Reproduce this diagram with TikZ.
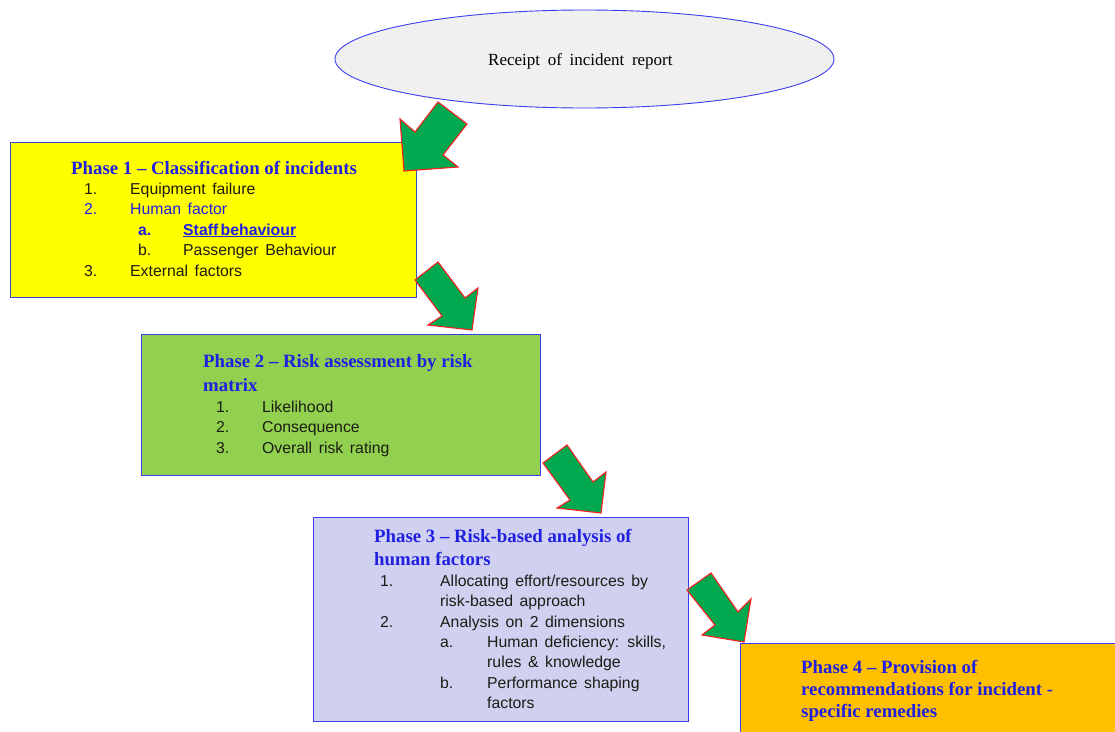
\documentclass[tikz,border=0pt]{standalone}
\usepackage{fontspec}
\setmainfont{Liberation Serif}
\setsansfont[WordSpace={1.5}]{Liberation Sans}
\usetikzlibrary{shapes.geometric}
\definecolor{ttlblue}{RGB}{32,32,225}
\definecolor{bodytxt}{RGB}{28,28,20}
\definecolor{boxblue}{RGB}{60,60,240}
\definecolor{box1blue}{RGB}{50,80,190}
\definecolor{ellfill}{RGB}{240,240,240}
\definecolor{ylw}{RGB}{255,255,0}
\definecolor{grn}{RGB}{146,208,80}
\definecolor{lav}{RGB}{208,208,240}
\definecolor{org}{RGB}{255,192,0}
\definecolor{arrgreen}{RGB}{0,168,80}
\definecolor{arrred}{RGB}{250,30,30}
\begin{document}
\begin{tikzpicture}[x=1pt,y=-1pt,
  phasebox/.style={draw=boxblue,line width=0.9pt,anchor=north west,inner sep=0pt},
  ttl/.style={anchor=base west,inner sep=0pt,text=ttlblue,font=\fontsize{18.8}{22}\selectfont\bfseries},
  bd/.style={anchor=base west,inner sep=0pt,text=bodytxt,font=\sffamily\fontsize{15.8}{19}\selectfont},
  bdb/.style={bd,text=ttlblue},
  blockarrow/.style={fill=arrgreen,draw=arrred,line width=1.1pt,line join=miter}]
\useasboundingbox (0,0) rectangle (1115,731);
\clip (0,0) rectangle (1115,731);

% start ellipse
\node[ellipse,draw=boxblue,line width=0.9pt,fill=ellfill,minimum width=499pt,minimum height=98pt,inner sep=0pt] (start) at (584.5,59) {};
\node[anchor=base west,inner sep=0pt,font=\fontsize{17}{20}\selectfont,
  execute at begin node={\spaceskip=0.45em plus 0.1em}] (starttxt) at (488,65) {Receipt of incident report};

% boxes
\node[phasebox,draw=box1blue,fill=ylw,minimum width=406pt,minimum height=155pt] (p1) at (9.5,142) {};
\node[phasebox,fill=grn,minimum width=399pt,minimum height=141pt] (p2) at (141,334) {};
\node[phasebox,fill=lav,minimum width=375pt,minimum height=204pt] (p3) at (313,517) {};
\node[phasebox,fill=org,minimum width=390pt,minimum height=100pt] (p4) at (740,643) {};

% arrows
\draw[blockarrow] (404,171) -- (400,119) -- (415,132) -- (438,102) -- (467,124) -- (443,155) -- (458,167) -- cycle;
\draw[blockarrow] (415,280) -- (438,262) -- (465,298) -- (478,288) -- (472,330) -- (428,325) -- (442,316) -- cycle;
\draw[blockarrow] (543,463) -- (567,445) -- (593,482) -- (606,472) -- (601,513) -- (557,508) -- (570,500) -- cycle;
\draw[blockarrow] (687,590) -- (711,573) -- (738,612) -- (751,599) -- (744,642) -- (702,635) -- (715,625) -- cycle;

% Phase 1 text
\node[ttl] (t1) at (71,174) {Phase 1 – Classification of incidents};
\node[bd] (n11) at (84,194) {1.};
\node[bd] (i11) at (130,194) {Equipment failure};
\node[bdb] (n12) at (84,214.5) {2.};
\node[bdb] (i12) at (130,214.5) {Human factor};
\node[bdb,font=\sffamily\bfseries\fontsize{15.8}{19}\selectfont] (n12a) at (138,235) {a.};
\node[bdb,font=\sffamily\bfseries\fontsize{15.8}{19}\selectfont] (i12a) at (183,235) {\underline{Staff\kern0.15em behaviour}};
\node[bd] (n12b) at (138,255.5) {b.};
\node[bd] (i12b) at (183,255.5) {Passenger Behaviour};
\node[bd] (n13) at (84,276) {3.};
\node[bd] (i13) at (130,276) {External factors};

% Phase 2 text
\node[ttl] (t2a) at (203,367) {Phase 2 – Risk assessment by risk};
\node[ttl] (t2b) at (203,391) {matrix};
\node[bd] (n21) at (216,412) {1.};
\node[bd] (i21) at (262,412) {Likelihood};
\node[bd] (n22) at (216,432.5) {2.};
\node[bd] (i22) at (262,432.5) {Consequence};
\node[bd] (n23) at (216,453) {3.};
\node[bd] (i23) at (262,453) {Overall risk rating};

% Phase 3 text
\node[ttl] (t3a) at (374,542) {Phase 3 – Risk-based analysis of};
\node[ttl] (t3b) at (374,565) {human factors};
\node[bd] (n31) at (380,586) {1.};
\node[bd] (i31a) at (440,586) {Allocating effort/resources by};
\node[bd] (i31b) at (440,606) {risk-based approach};
\node[bd] (n32) at (380,627) {2.};
\node[bd] (i32) at (440,627) {Analysis on 2 dimensions};
\node[bd] (n32a) at (440,647.5) {a.};
\node[bd] (i32a1) at (487,647.5) {Human deficiency: skills,};
\node[bd] (i32a2) at (487,667.5) {rules \& knowledge};
\node[bd] (n32b) at (440,688) {b.};
\node[bd] (i32b1) at (487,688) {Performance shaping};
\node[bd] (i32b2) at (487,708) {factors};

% Phase 4 text
\node[ttl] (t4a) at (801,673) {Phase 4 – Provision of};
\node[ttl] (t4b) at (801,695) {recommendations for incident -};
\node[ttl] (t4c) at (801,717) {specific remedies};
\end{tikzpicture}
\end{document}
